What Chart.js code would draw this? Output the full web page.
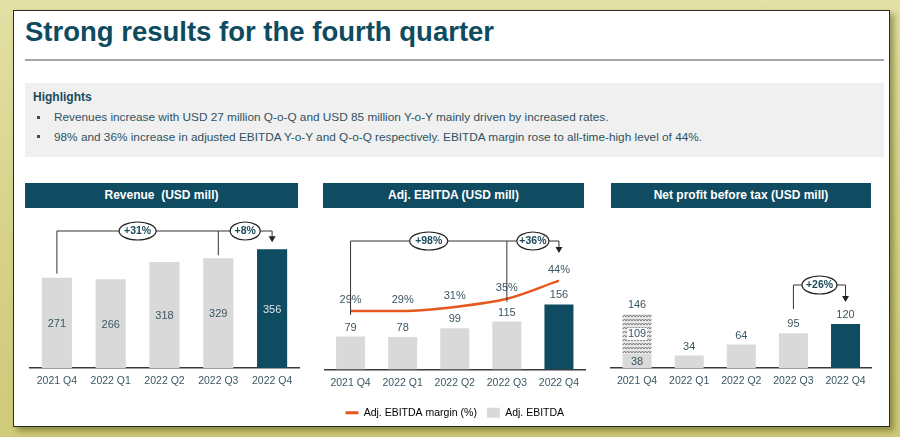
<!DOCTYPE html>
<html>
<head>
<meta charset="utf-8">
<script src="https://cdn.jsdelivr.net/npm/chart.js@4.4.0/dist/chart.umd.min.js"></script>
<style>
  body {
    margin: 0;
    width: 900px;
    height: 437px;
    overflow: hidden;
    position: relative;
    background: linear-gradient(180deg, #e3e0a6 0%, #d5d186 60%, #cfcb7a 100%);
    font-family: "Liberation Sans", Arial, sans-serif;
  }
  .panel {
    position: absolute;
    left: 13px;
    top: 10px;
    width: 877px;
    height: 417px;
    box-sizing: border-box;
    border: 1.5px solid #2a2a2a;
    background: #fff;
    box-shadow: 4px 4px 6px rgba(90, 88, 20, 0.55);
  }
  .abs { position: absolute; }
  h1 {
    position: absolute;
    left: 25px;
    top: 16px;
    margin: 0;
    font-family: "Liberation Sans Narrow", "Arial Narrow", "Liberation Sans", sans-serif;
    font-weight: bold;
    font-size: 27.5px;
    line-height: 32px;
    color: #0e4b5f;
    white-space: nowrap;
  }
  .rule {
    left: 25px; top: 59px; width: 859px; height: 1.5px; background: #a3a7ab;
  }
  .highlights {
    left: 25px; top: 83px; width: 859px; height: 74px; background: #f0f0f0;
  }
  .hl-title {
    left: 33px; top: 90px; font-size: 12px; font-weight: bold; color: #1a4a5e; line-height: 14px;
  }
  .bullet {
    left: 54px; font-size: 11.8px; color: #2f5260; line-height: 14px; white-space: nowrap;
  }
  .bullet::before {
    content: "";
    position: absolute;
    left: -17px; top: 5.5px; width: 3px; height: 3px; background: #2f5260;
  }
  .hdr {
    top: 183px; height: 25px; line-height: 25px; background: #0f4b61; color: #fff;
    font-weight: bold; font-size: 12px; text-align: center; white-space: pre;
  }
  canvas { position: absolute; }
</style>
</head>
<body>
<div class="panel"></div>
<h1>Strong results for the fourth quarter</h1>
<div class="abs rule"></div>
<div class="abs highlights"></div>
<div class="abs hl-title">Highlights</div>
<div class="abs bullet" style="top:110px">Revenues increase with USD 27 million Q-o-Q and USD 85 million Y-o-Y mainly driven by increased rates.</div>
<div class="abs bullet" style="top:129.5px">98% and 36% increase in adjusted EBITDA Y-o-Y and Q-o-Q respectively. EBITDA margin rose to all-time-high level of 44%.</div>

<div class="abs hdr" style="left:25px;width:273px">Revenue  (USD mill)</div>
<div class="abs hdr" style="left:323px;width:261px">Adj. EBITDA (USD mill)</div>
<div class="abs hdr" style="left:611px;width:260px">Net profit before tax (USD mill)</div>

<canvas id="revenueChart" width="280" height="190" style="left:25px;top:210px"></canvas>
<canvas id="ebitdaChart" width="290" height="218" style="left:310px;top:210px"></canvas>
<canvas id="npbtChart" width="280" height="190" style="left:605px;top:210px"></canvas>

<script>
const quarters = ["2021 Q4", "2022 Q1", "2022 Q2", "2022 Q3", "2022 Q4"];
const revenue = [271, 266, 318, 329, 356];
const ebitda = [79, 78, 99, 115, 156];
const ebitdaMargin = [29, 29, 31, 35, 44];
const npbtBase = [38, 34, 64, 95, 120];
const npbtOneOff = [109, 0, 0, 0, 0];
const npbtTotal = [146, 34, 64, 95, 120];
const revenueSteps = ["+31%", "+8%"];
const ebitdaSteps = ["+98%", "+36%"];
const npbtSteps = ["+26%"];

const FONT = "'Liberation Sans', Arial, sans-serif";
const GREY = "#d9d9d9";
const TEAL = "#0f4b61";
const TXT = "#3b5763";
const ORANGE = "#e4571f";

const barColors = quarters.map((q, i) => (i === quarters.length - 1 ? TEAL : GREY));

function xAxis(height) {
  return {
    grid: { display: false, drawTicks: false },
    border: { display: true, color: "#3a3a3a", width: 1.5 },
    ticks: { color: TXT, font: { family: FONT, size: 10.5 }, padding: 7, maxRotation: 0 },
    afterFit: (scale) => {
      scale.height = height;
    },
  };
}

function drawBracket(ctx, b) {
  ctx.save();
  ctx.strokeStyle = "#333";
  ctx.lineWidth = 1;
  ctx.beginPath();
  ctx.moveTo(b.x0, b.y0);
  ctx.lineTo(b.x0, b.level);
  ctx.lineTo(b.x1, b.level);
  ctx.lineTo(b.x1, b.tip - 5);
  b.drops.forEach((d) => {
    ctx.moveTo(d.x, b.level);
    ctx.lineTo(d.x, d.y);
  });
  ctx.stroke();

  // arrow head
  ctx.fillStyle = "#222";
  ctx.beginPath();
  ctx.moveTo(b.x1 - 3.5, b.tip - 6);
  ctx.lineTo(b.x1 + 3.5, b.tip - 6);
  ctx.lineTo(b.x1, b.tip);
  ctx.closePath();
  ctx.fill();

  // growth pills
  b.pills.forEach((p) => {
    ctx.beginPath();
    ctx.ellipse(p.x, b.level, p.w / 2, 9, 0, 0, Math.PI * 2);
    ctx.fillStyle = "#fff";
    ctx.fill();
    ctx.strokeStyle = "#222";
    ctx.lineWidth = 1.2;
    ctx.stroke();
    ctx.fillStyle = "#1d4a5b";
    ctx.font = "bold 10.5px " + FONT;
    ctx.textAlign = "center";
    ctx.textBaseline = "middle";
    ctx.fillText(p.text, p.x, b.level + 0.5);
  });
  ctx.restore();
}

function makeHatch() {
  const c = document.createElement("canvas");
  c.width = 6;
  c.height = 4;
  const g = c.getContext("2d");
  g.fillStyle = "#e8e8e8";
  g.fillRect(0, 0, 6, 4);
  g.strokeStyle = "#7c7c7c";
  g.lineWidth = 1;
  g.beginPath();
  g.moveTo(0, 3);
  g.lineTo(1.5, 1);
  g.lineTo(3, 3);
  g.lineTo(4.5, 1);
  g.lineTo(6, 3);
  g.stroke();
  return g.createPattern(c, "repeat");
}

// Revenue
const revenueDecor = {
  id: "revenueDecor",
  afterDatasetsDraw(chart) {
    const ctx = chart.ctx;
    const bars = chart.getDatasetMeta(0).data;
    ctx.save();
    ctx.font = "11px " + FONT;
    ctx.textAlign = "center";
    ctx.textBaseline = "middle";
    bars.forEach((bar, i) => {
      ctx.fillStyle = i === bars.length - 1 ? "#dfe7ea" : TXT;
      ctx.fillText(revenue[i], bar.x, (bar.y + bar.base) / 2 + 1);
    });
    ctx.restore();
    drawBracket(ctx, {
      x0: bars[0].x,
      y0: bars[0].y - 4,
      x1: bars[4].x,
      tip: bars[4].y - 7,
      level: chart.chartArea.top + 21,
      drops: [{ x: bars[3].x, y: bars[3].y - 3 }],
      pills: [
        { x: (bars[0].x + bars[3].x) / 2, w: 37, text: revenueSteps[0] },
        { x: (bars[3].x + bars[4].x) / 2, w: 30, text: revenueSteps[1] },
      ],
    });
  },
};

new Chart(document.getElementById("revenueChart"), {
  type: "bar",
  data: {
    labels: quarters,
    datasets: [{ data: revenue, backgroundColor: barColors, categoryPercentage: 1, barPercentage: 0.56 }],
  },
  options: {
    responsive: false,
    animation: false,
    layout: { padding: { left: 5, right: 6, top: 0, bottom: 12 } },
    scales: {
      x: xAxis(20),
      y: { display: false, min: 0, max: 474 },
    },
    plugins: { legend: { display: false }, tooltip: { enabled: false } },
  },
  plugins: [revenueDecor],
});

// Adj. EBITDA
const ebitdaDecor = {
  id: "ebitdaDecor",
  afterDatasetsDraw(chart) {
    const ctx = chart.ctx;
    const pts = chart.getDatasetMeta(0).data;
    const bars = chart.getDatasetMeta(1).data;
    ctx.save();
    ctx.font = "11px " + FONT;
    ctx.textAlign = "center";
    ctx.textBaseline = "middle";
    ctx.fillStyle = TXT;
    bars.forEach((bar, i) => ctx.fillText(ebitda[i], bar.x, bar.y - 9));
    pts.forEach((pt, i) => ctx.fillText(ebitdaMargin[i] + "%", pt.x, pt.y - 11));
    ctx.restore();
    drawBracket(ctx, {
      x0: pts[0].x,
      y0: pts[0].y + 4,
      x1: bars[4].x,
      level: chart.chartArea.top + 31,
      tip: chart.chartArea.top + 43,
      drops: [{ x: pts[3].x, y: pts[3].y + 3 }],
      pills: [
        { x: (pts[0].x + pts[3].x) / 2, w: 38, text: ebitdaSteps[0] },
        { x: (pts[3].x + bars[4].x) / 2, w: 32, text: ebitdaSteps[1] },
      ],
    });
  },
};

new Chart(document.getElementById("ebitdaChart"), {
  type: "bar",
  data: {
    labels: quarters,
    datasets: [
      {
        type: "line",
        label: "Adj. EBITDA margin (%)",
        data: ebitdaMargin,
        yAxisID: "y2",
        borderColor: ORANGE,
        borderWidth: 2.5,
        pointRadius: 0,
        cubicInterpolationMode: "monotone",
      },
      {
        label: "Adj. EBITDA",
        data: ebitda,
        yAxisID: "y",
        backgroundColor: barColors,
        categoryPercentage: 1,
        barPercentage: 0.557,
      },
    ],
  },
  options: {
    responsive: false,
    animation: false,
    layout: { padding: { left: 14.5, right: 15, top: 0, bottom: 0 } },
    scales: {
      x: xAxis(28),
      y: { display: false, min: 0, max: 382.6 },
      y2: { display: false, min: 0, max: 79 },
    },
    plugins: {
      tooltip: { enabled: false },
      legend: {
        position: "bottom",
        labels: {
          usePointStyle: true,
          pointStyleWidth: 13,
          boxHeight: 10,
          padding: 10,
          color: "#333",
          font: { family: FONT, size: 10.5 },
          generateLabels: (chart) => [
            {
              text: chart.data.datasets[0].label,
              pointStyle: "line",
              strokeStyle: ORANGE,
              fillStyle: ORANGE,
              lineWidth: 3,
              datasetIndex: 0,
            },
            {
              text: chart.data.datasets[1].label,
              pointStyle: "rect",
              strokeStyle: GREY,
              fillStyle: GREY,
              lineWidth: 0,
              datasetIndex: 1,
            },
          ],
        },
      },
    },
  },
  plugins: [ebitdaDecor],
});

// Net profit before tax
const npbtDecor = {
  id: "npbtDecor",
  afterDatasetsDraw(chart) {
    const ctx = chart.ctx;
    const bars = chart.getDatasetMeta(0).data;
    const extra = chart.getDatasetMeta(1).data;
    ctx.save();
    ctx.font = "11px " + FONT;
    ctx.textAlign = "center";
    ctx.textBaseline = "middle";
    bars.forEach((bar, i) => {
      ctx.fillStyle = TXT;
      if (npbtOneOff[i] > 0) {
        const seg = extra[i];
        ctx.fillText(npbtBase[i], bar.x, (bar.y + bar.base) / 2 + 1);
        const midY = (seg.y + seg.base) / 2;
        ctx.fillStyle = "#fff";
        ctx.fillRect(seg.x - 10, midY - 6, 20, 12);
        ctx.fillStyle = TXT;
        ctx.fillText(npbtOneOff[i], seg.x, midY);
        ctx.fillText(npbtTotal[i], seg.x, seg.y - 9);
      } else {
        ctx.fillText(npbtTotal[i], bar.x, bar.y - 9);
      }
    });
    ctx.restore();
    drawBracket(ctx, {
      x0: bars[3].x,
      y0: bars[3].y - 24,
      x1: bars[4].x,
      level: chart.chartArea.top + 75,
      tip: chart.chartArea.top + 92,
      drops: [],
      pills: [{ x: (bars[3].x + bars[4].x) / 2, w: 35, text: npbtSteps[0] }],
    });
  },
};

new Chart(document.getElementById("npbtChart"), {
  type: "bar",
  data: {
    labels: quarters,
    datasets: [
      { data: npbtBase, backgroundColor: barColors, categoryPercentage: 1, barPercentage: 0.557 },
      { data: npbtOneOff, backgroundColor: makeHatch(), categoryPercentage: 1, barPercentage: 0.557 },
    ],
  },
  options: {
    responsive: false,
    animation: false,
    layout: { padding: { left: 6, right: 13.4, top: 0, bottom: 12 } },
    scales: {
      x: Object.assign(xAxis(20), { stacked: true }),
      y: { display: false, stacked: true, min: 0, max: 430.5 },
    },
    plugins: { legend: { display: false }, tooltip: { enabled: false } },
  },
  plugins: [npbtDecor],
});
</script>
</body>
</html>
